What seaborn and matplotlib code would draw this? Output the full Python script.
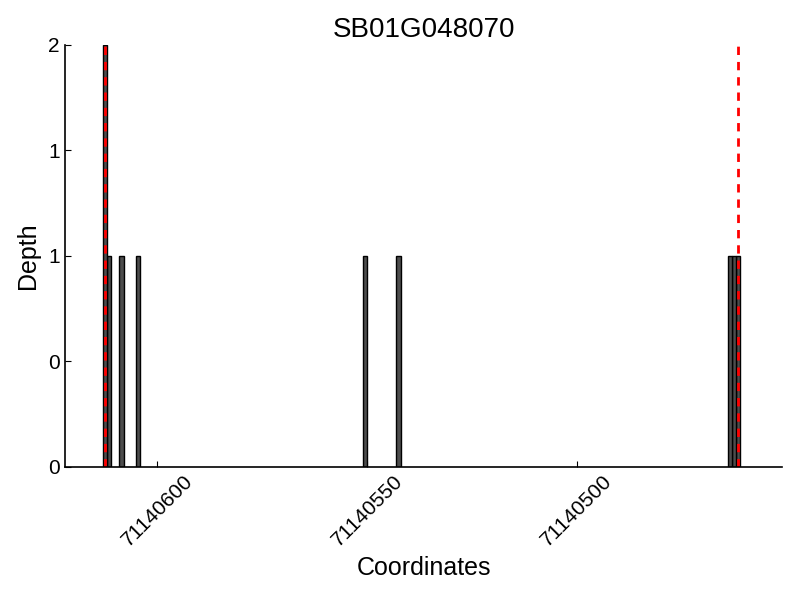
import numpy as np
import pandas as pd
import matplotlib
matplotlib.use("Agg")
import matplotlib.pyplot as plt
import matplotlib.ticker as mticker
import seaborn as sns

# read depth per coordinate
gene = "SB01G048070"
coords = [71140612, 71140611, 71140608, 71140604, 71140550, 71140542,
          71140463, 71140462, 71140461]
depths = [2, 1, 1, 1, 1, 1, 1, 1, 1]
gene_start = 71140612
gene_end = 71140461
pad = 10

df = pd.DataFrame({"Coordinates": coords, "Depth": depths})

sns.set_style("ticks", rc={"text.color": "black", "axes.labelcolor": "black",
                           "xtick.color": "black", "ytick.color": "black",
                           "axes.edgecolor": "black"})
plt.rcParams["font.family"] = ["Liberation Sans", "DejaVu Sans"]

fig = plt.figure(figsize=(8, 6), dpi=100)
ax = fig.add_axes([0.081, 0.222, 0.897, 0.703])

sns.histplot(data=df, x="Coordinates", weights="Depth", binwidth=1,
             binrange=(gene_end - pad + 1, gene_start + pad),
             color="#4d4d4d", edgecolor="black", linewidth=1, alpha=1, ax=ax)
# drop the empty bins
for p in list(ax.patches):
    if p.get_height() == 0:
        p.remove()

# gene boundaries
for c in [gene_start, gene_end]:
    ax.axvline(c + 0.5, color="red", linestyle="--", linewidth=2, dashes=(3, 2.5))

ax.set_xlim(gene_start + pad, gene_end - pad)
ax.set_ylim(0, 2)
ax.yaxis.set_major_locator(mticker.MultipleLocator(0.5))
ax.yaxis.set_major_formatter(mticker.FormatStrFormatter("%d"))
ax.xaxis.set_major_locator(mticker.MultipleLocator(50))
ax.xaxis.set_major_formatter(mticker.FormatStrFormatter("%d"))

ax.tick_params(direction="in", labelsize=15, length=4, width=0.8, colors="black")
plt.setp(ax.get_xticklabels(), rotation=45)
for s in ["top", "right"]:
    ax.spines[s].set_visible(False)
for s in ["left", "bottom"]:
    ax.spines[s].set_linewidth(1.2)

ax.set_title(gene, fontsize=20)
ax.set_xlabel("Coordinates", fontsize=18)
ax.set_ylabel("Depth", fontsize=18, labelpad=6)

fig.savefig("out.png", dpi=100)
